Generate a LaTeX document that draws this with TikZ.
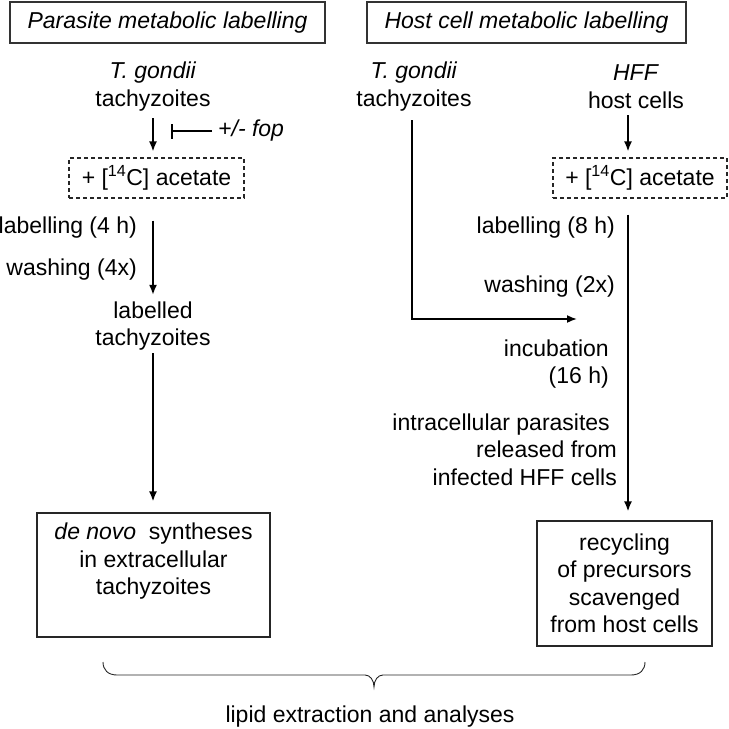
\documentclass[tikz,border=0pt]{standalone}
\usepackage{fontspec}
\setmainfont{Liberation Sans}
\usetikzlibrary{arrows.meta}
\begin{document}
\begin{tikzpicture}[x=1pt,y=-1pt,
  font=\fontsize{23}{27.5}\selectfont,
  txt/.style={inner sep=0pt, align=center},
  hdr/.style={draw=black!80, line width=1.1pt, inner sep=0pt, minimum height=41pt},
  dbox/.style={draw=black!85, line width=1.1pt, dash pattern=on 4pt off 3pt, inner sep=0pt, minimum width=175pt, minimum height=40pt},
  box/.style={draw=black!85, line width=1.2pt, inner sep=0pt},
  arr/.style={line width=1.7pt, -{Latex[length=10pt,width=8pt]}},
  inh/.style={line width=1.7pt, -{Bar[width=15pt,line width=1.7pt]}},
  brc/.style={line width=0.9pt, black!85}]
\useasboundingbox (0,0) rectangle (729,729);

% headers
\node[hdr, minimum width=315pt] (h1) at (167.5,22.5) {\textit{Parasite metabolic labelling}};
\node[hdr, minimum width=319pt] (h2) at (526.5,22.5) {\textit{Host cell metabolic labelling}};

% left column
\node[txt] (tg1) at (153,86.5) {\textit{T. gondii}\\tachyzoites};
\node[dbox] (ac1) at (156.5,178) {+ [\textsuperscript{14}C] acetate};
\draw[arr, shorten <=7pt, shorten >=6pt] (tg1.south) -- (tg1.south |- ac1.north);
\node[txt, anchor=west] (fop) at (218,131) {\textit{+/- fop}};
\draw[inh] ([xshift=-6pt]fop.west) -- ++(-41,0);

\node[txt, anchor=east] (l4) at (137,228) {labelling (4 h)};
\node[txt, anchor=east] (w4) at (137,270) {washing (4x)};
\node[txt] (lt1) at (153,326) {labelled\\tachyzoites};
\draw[arr, shorten <=22pt, shorten >=6.5pt] (lt1.north |- ac1.south) -- (lt1.north);

\node[box, minimum width=233pt, minimum height=124pt] (b1) at (153.5,575) {};
\node[txt] (b1t) at (153.5,561.5) {\textit{de novo}\hspace{0.55em}syntheses\\in extracellular\\tachyzoites};
\draw[arr, shorten <=2.5pt, shorten >=11pt] (lt1.south) -- (lt1.south |- b1.north);

% right column
\node[txt] (tg2) at (414,86.5) {\textit{T. gondii}\\tachyzoites};
\coordinate (c2) at (577,319);
\draw[arr] ([xshift=-2pt,yshift=-9pt]tg2.south) |- (c2);

\node[txt] (hff) at (636,86.5) {\textit{HFF}\\host cells};
\node[dbox, minimum width=174pt] (ac2) at (640,178) {+ [\textsuperscript{14}C] acetate};
\draw[arr, shorten <=7pt, shorten >=6pt] ([xshift=-8pt]hff.south) -- ([xshift=-8pt]hff.south |- ac2.north);

\node[txt, anchor=east] (l8) at (615,228) {labelling (8 h)};
\node[txt, anchor=east] (w2) at (615,287) {washing (2x)};
\node[txt, anchor=east, align=right] (inc) at (609,364) {incubation\\(16 h)};
\node[txt, anchor=east, align=right] (rel) at (617,449.5) {intracellular parasites\hspace*{7pt}\\released from\\infected HFF cells};

\node[box, minimum width=175pt, minimum height=125pt, align=center] (b2) at (624.5,583.5) {recycling\\of precursors\\scavenged\\from host cells};
\draw[arr, shorten <=16pt, shorten >=9pt] ([xshift=-12pt]ac2.south) -- ([xshift=-12pt]ac2.south |- b2.north);

% brace
\draw[brc] (103,662) .. controls (103,670) and (108,675) .. (117,675)
  -- (365,675) .. controls (370,675) and (374,680) .. (374,687)
  .. controls (374,680) and (378,675) .. (383,675)
  -- (631,675) .. controls (640,675) and (645,670) .. (645,662);
\node[txt] (lip) at (370,717) {lipid extraction and analyses};
\end{tikzpicture}
\end{document}
